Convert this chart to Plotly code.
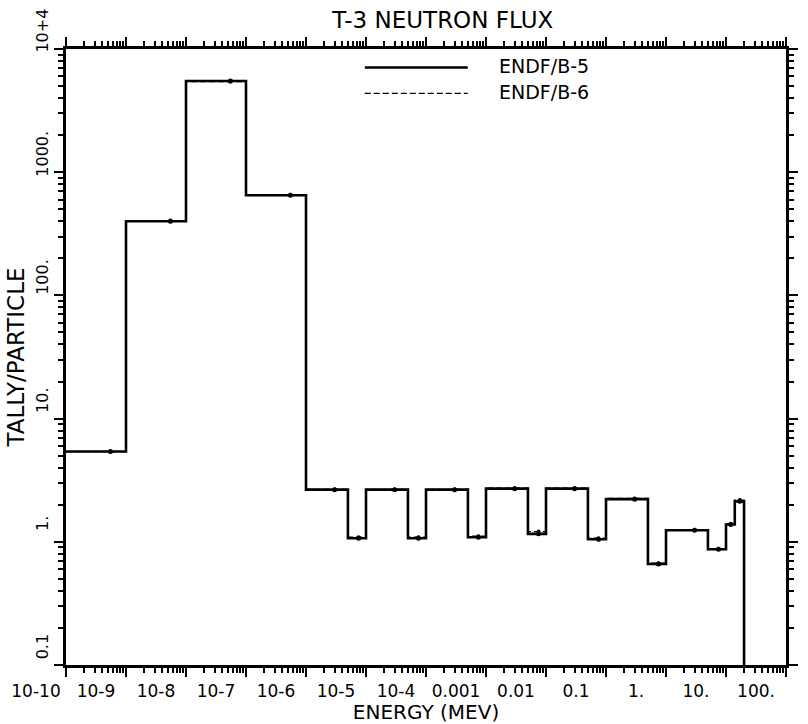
import numpy as np
import plotly.graph_objects as go

# Bin edges (MeV) and tallies per bin
edges = [1e-10, 1e-9, 1e-8, 1e-7, 1e-6, 5e-6, 1e-5, 5e-5, 1e-4, 5e-4, 1e-3,
         5e-3, 1e-2, 5e-2, 0.1, 0.5, 1.0, 5.0, 10.0, 14.0, 20.0]
endf_b5 = [5.4, 400, 5500, 650, 2.65, 1.07, 2.65, 1.07, 2.65, 1.09, 2.70,
           1.16, 2.70, 1.05, 2.22, 0.66, 1.24, 0.87, 1.38, 2.13]
endf_b6 = [5.4, 405, 5450, 655, 2.66, 1.09, 2.66, 1.09, 2.66, 1.11, 2.72,
           1.21, 2.72, 1.07, 2.25, 0.67, 1.25, 0.88, 1.40, 2.18]

x_tickvals = [1e-10, 1e-9, 1e-8, 1e-7, 1e-6, 1e-5, 1e-4, 1e-3, 1e-2, 1e-1, 1, 10, 100]
x_ticktext = ["10-10", "10-9", "10-8", "10-7", "10-6", "10-5", "10-4",
              "0.001", "0.01", "0.1", "1.", "10.", "100."]
y_tickvals = [0.1, 1, 10, 100, 1000, 1e4]
y_ticktext = ["0.1", "1.", "10.", "100.", "1000.", "10+4"]

x_range = [-10, 2]
y_range = [-1, 4]
y_floor = 10 ** y_range[0]

FONT = "DejaVu Sans"

def step_xy(e, v):
    xs = list(e) + [e[-1]]
    ys = list(v) + [v[-1], y_floor]
    return xs, ys

def mids(e):
    e = np.asarray(e)
    return (e[:-1] + e[1:]) / 2.0

fig = go.Figure()

x5, y5 = step_xy(edges, endf_b5)
x6, y6 = step_xy(edges, endf_b6)

fig.add_trace(go.Scatter(x=x5, y=y5, mode="lines", line_shape="hv",
                         line=dict(color="black", width=2.6), name="ENDF/B-5",
                         showlegend=False))
fig.add_trace(go.Scatter(x=x6, y=y6, mode="lines", line_shape="hv",
                         line=dict(color="black", width=1.3, dash="6px,3px"),
                         name="ENDF/B-6", showlegend=False))
fig.add_trace(go.Scatter(x=mids(edges), y=endf_b5, mode="markers",
                         marker=dict(color="black", size=5), showlegend=False))
fig.add_trace(go.Scatter(x=mids(edges), y=endf_b6, mode="markers",
                         marker=dict(color="black", size=4), showlegend=False))

axis_common = dict(
    showline=True, linecolor="black", linewidth=2.5, mirror="allticks",
    ticks="outside", ticklen=9, tickwidth=2, tickcolor="black",
    showgrid=False, zeroline=False, automargin=False,
    minor=dict(ticks="outside", ticklen=5, tickwidth=1.5, tickcolor="black",
               dtick="D1", showgrid=False),
)

fig.update_xaxes(type="log", range=x_range, tickmode="array",
                 tickvals=x_tickvals, ticktext=x_ticktext,
                 ticklabelshift=-30,
                 tickfont=dict(family=FONT, size=17, color="black"),
                 title=dict(text="ENERGY (MEV)", standoff=0,
                            font=dict(family=FONT, size=20, color="black")),
                 **axis_common)
fig.update_yaxes(type="log", range=y_range, tickmode="array",
                 tickvals=y_tickvals, ticktext=y_ticktext, tickangle=-90,
                 ticklabelshift=-16,
                 tickfont=dict(family=FONT, size=16, color="black"),
                 title=dict(text="TALLY/PARTICLE", standoff=2,
                            font=dict(family=FONT, size=23, color="black")),
                 **axis_common)

# legend drawn as decoration
fig.add_shape(type="line", xref="paper", yref="paper", x0=0.415, x1=0.558,
              y0=0.970, y1=0.970, line=dict(color="black", width=2.6))
fig.add_shape(type="line", xref="paper", yref="paper", x0=0.415, x1=0.558,
              y0=0.928, y1=0.928, line=dict(color="black", width=1.3, dash="6px,3px"))
fig.add_annotation(xref="paper", yref="paper", x=0.598, y=0.973, text="ENDF/B-5",
                   showarrow=False, xanchor="left", yanchor="middle",
                   font=dict(family=FONT, size=19, color="black"))
fig.add_annotation(xref="paper", yref="paper", x=0.598, y=0.931, text="ENDF/B-6",
                   showarrow=False, xanchor="left", yanchor="middle",
                   font=dict(family=FONT, size=19, color="black"))

fig.update_layout(
    width=808, height=724,
    margin=dict(l=66, r=22, t=49, b=59),
    paper_bgcolor="white", plot_bgcolor="white",
    title=dict(text="T-3 NEUTRON FLUX", x=0.548, xanchor="center", y=0.972,
               yanchor="middle", font=dict(family=FONT, size=23, color="black")),
    showlegend=False,
)

fig.write_html("out.html")
